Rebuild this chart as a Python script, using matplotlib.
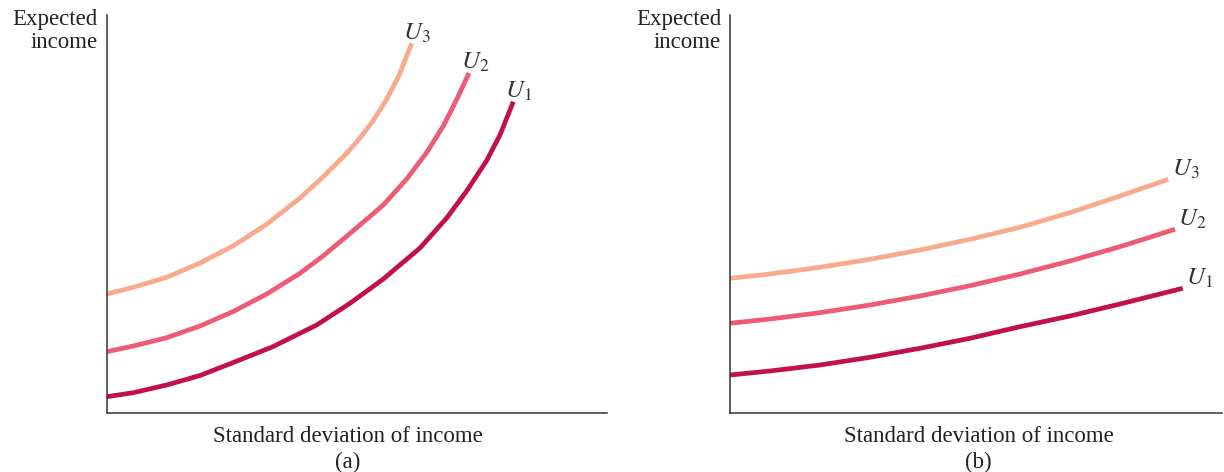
import matplotlib
matplotlib.use("Agg")
import matplotlib.pyplot as plt

plt.rcParams['font.family'] = ['Liberation Serif', 'DejaVu Serif']
plt.rcParams['mathtext.fontset'] = 'stix'

# panel (a): steep indifference curves (units)
a_u1_x = [0, 26.3, 59.7, 93, 126.3, 166.3, 209.7, 243, 276.3, 313, 339.7, 359.7, 379.7, 393, 406.3]
a_u1_y = [16.3, 20.3, 28, 37.5, 50.5, 66.5, 88, 109.7, 134, 165, 195, 222, 252.5, 278, 311.3]
a_u2_x = [0, 26.3, 59.7, 93, 126.3, 159.7, 193, 216, 240, 276.3, 299.7, 319.7, 336.3, 349.7, 362]
a_u2_y = [61.3, 67, 75.3, 87, 101.5, 119, 139.7, 157, 177, 208, 234, 260.5, 287, 313.5, 340]
a_u3_x = [0, 26.3, 59.7, 93, 126, 160, 193, 216, 240, 253, 266, 279, 292, 304.7]
a_u3_y = [119, 125.7, 135.7, 150, 167, 189, 215, 236, 260, 275, 292, 312.5, 337.5, 369.7]

# panel (b): flat indifference curves
b_u1_x = [0, 40, 90, 140, 190, 240, 290, 340, 390, 452.7]
b_u1_y = [38, 42, 48, 55.7, 64.7, 74.7, 86.3, 97, 109, 124.7]
b_u2_x = [0, 40, 90, 140, 190, 240, 290, 340, 390, 445]
b_u2_y = [89.7, 94, 100.3, 108, 117, 127.3, 139, 152, 166.3, 183.7]
b_u3_x = [0, 40, 90, 140, 190, 240, 290, 340, 390, 438.3]
b_u3_y = [134.7, 139, 145.7, 153.7, 163, 173.7, 185.7, 200.3, 217, 233.7]

colors = {'U1': '#C2104B', 'U2': '#EE5B76', 'U3': '#F8AA8C'}
lw = 3.4

fig = plt.figure(figsize=(12.24, 4.72), dpi=100)
ax1 = fig.add_axes([107 / 1224, 59 / 472, 500 / 1224, 398 / 472])
ax2 = fig.add_axes([730 / 1224, 59 / 472, 492 / 1224, 398 / 472])

panels = [
    (ax1, [(a_u1_x, a_u1_y, 'U1'), (a_u2_x, a_u2_y, 'U2'), (a_u3_x, a_u3_y, 'U3')],
     500, '(a)', (-6, -1), 0.482),
    (ax2, [(b_u1_x, b_u1_y, 'U1'), (b_u2_x, b_u2_y, 'U2'), (b_u3_x, b_u3_y, 'U3')],
     492, '(b)', (2.5, -1), 0.505),
]

for ax, curves, width, tag, off, xc in panels:
    for xs, ys, name in curves:
        ax.plot(xs, ys, color=colors[name], lw=lw, solid_capstyle='butt',
                solid_joinstyle='round')
        ax.annotate(r'$\mathit{U}_{%s}$' % name[1], (xs[-1], ys[-1]),
                    xytext=off, textcoords='offset points',
                    fontsize=18, color='#333333', ha='left', va='bottom')
    ax.set_xlim(0, width)
    ax.set_ylim(0, 398)
    ax.set_xticks([])
    ax.set_yticks([])
    for s in ['top', 'right']:
        ax.spines[s].set_visible(False)
    for s in ['left', 'bottom']:
        ax.spines[s].set_color('#333333')
        ax.spines[s].set_linewidth(1.1)
    ax.text(-0.018, 1.015, 'Expected\nincome', transform=ax.transAxes,
            ha='right', va='top', fontsize=16.5, color='#222222', linespacing=1.1)
    ax.text(xc, -0.033, 'Standard deviation of income', transform=ax.transAxes,
            ha='center', va='top', fontsize=16.5, color='#222222')
    ax.text(xc, -0.098, tag, transform=ax.transAxes,
            ha='center', va='top', fontsize=16.5, color='#222222')

fig.savefig('out.png', dpi=100)
